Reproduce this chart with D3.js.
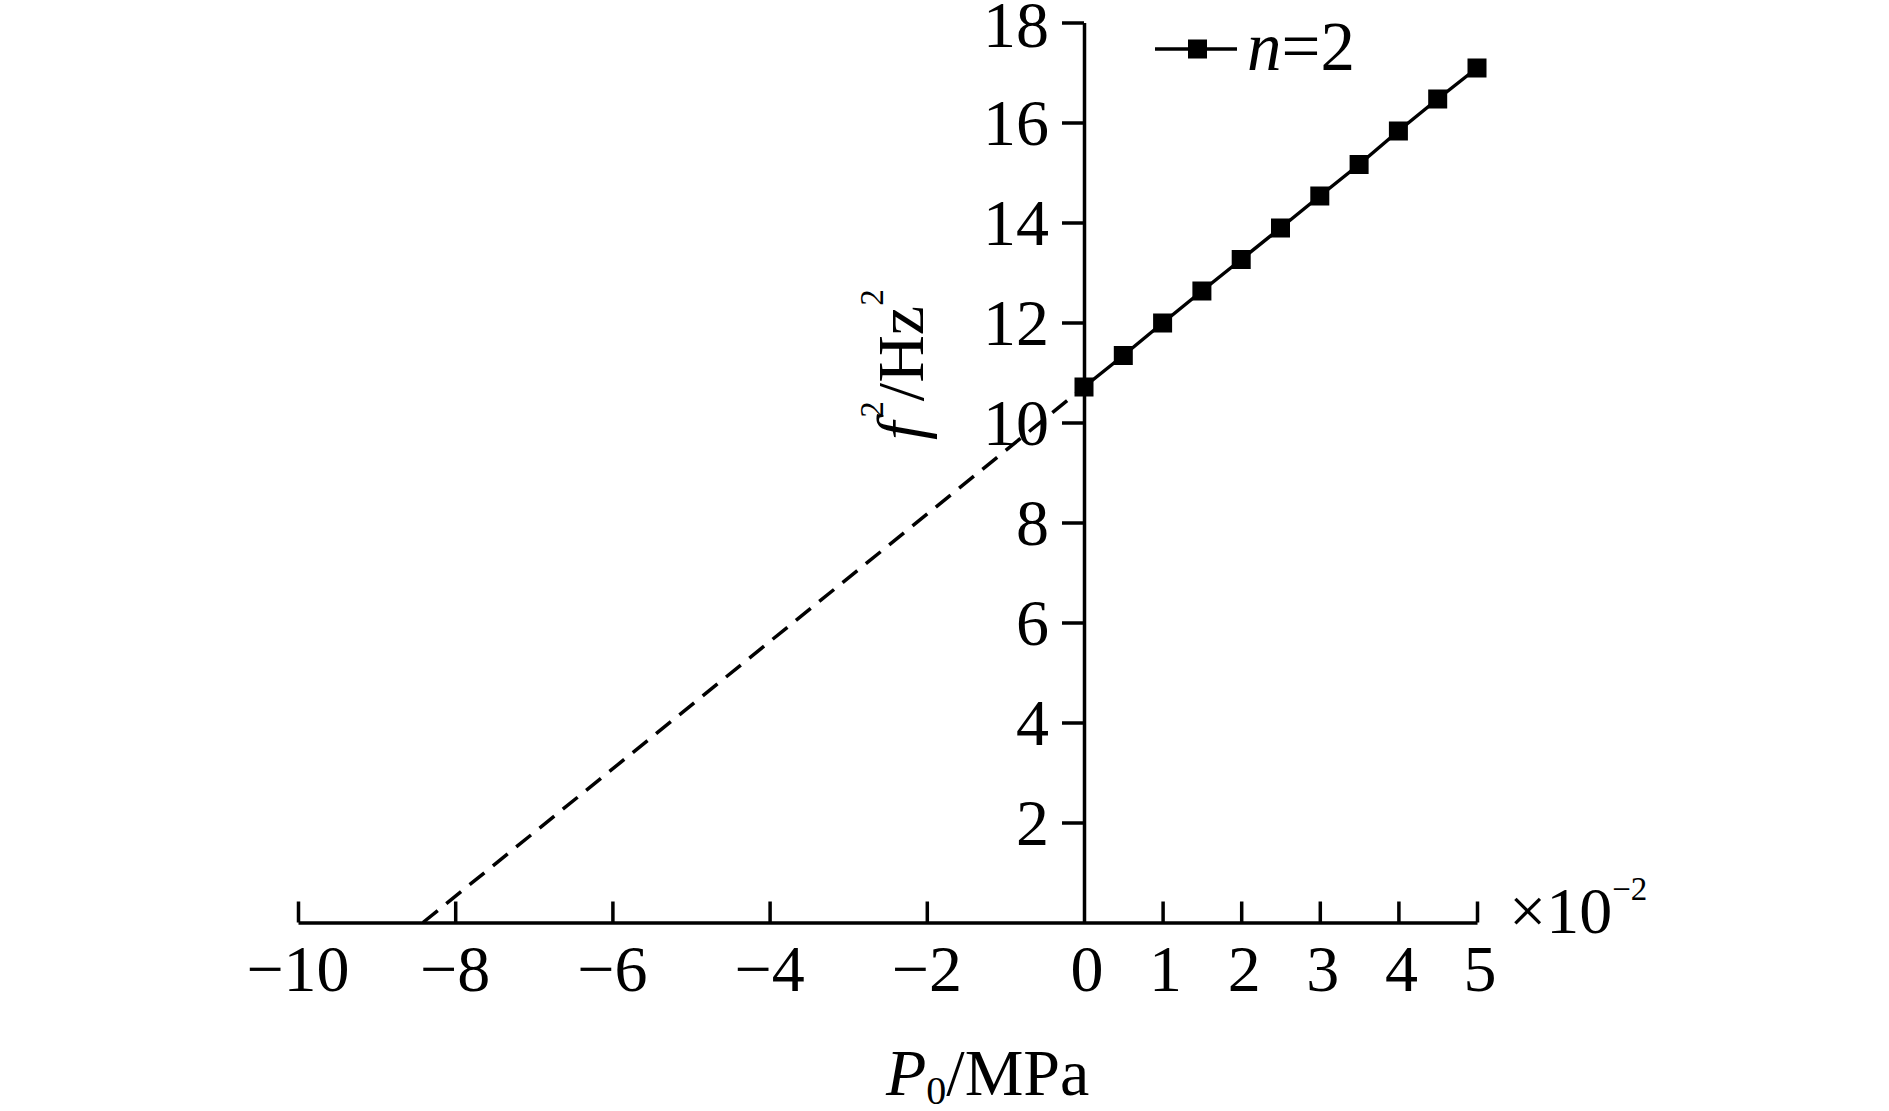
<!DOCTYPE html>
<html>
<head>
<meta charset="utf-8">
<script src="https://cdn.jsdelivr.net/npm/d3@7"></script>
<style>
  html, body { margin: 0; padding: 0; background: #fff; }
  svg { display: block; }
  text { font-family: "Liberation Serif", "Times New Roman", serif; fill: #000; }
</style>
</head>
<body>
<svg id="chart" width="1889" height="1111"></svg>
<script>
// ---- data ----
const pressure = [0, 0.5, 1, 1.5, 2, 2.5, 3, 3.5, 4, 4.5, 5];           // P0 (x10^-2 MPa)
const freqSq   = [10.71, 11.34, 11.99, 12.63, 13.26, 13.89, 14.53, 15.16, 15.83, 16.47, 17.09]; // f^2 (Hz^2)
const extrapX  = [-8.41, 0];      // dashed extrapolation line
const extrapY  = [0, 10.71];
const xTickMarks  = [-10, -8, -6, -4, -2, 1, 2, 3, 4, 5];
const xTickLabels = [-10, -8, -6, -4, -2, 0, 1, 2, 3, 4, 5];
const yTicks      = [2, 4, 6, 8, 10, 12, 14, 16, 18];
const seriesName  = "n=2";

// ---- layout ----
const svg = d3.select("#chart");
const x = d3.scaleLinear().domain([-10, 5]).range([298, 1477]);
const y = d3.scaleLinear().domain([0, 18]).range([922.5, 22.5]);
const FS = 66;
const SW = 3.5;

// X axis
const xAxis = d3.axisBottom(x)
  .tickValues(xTickMarks)
  .tickSizeInner(-21)
  .tickSizeOuter(0)
  .tickFormat("");
const gx = svg.append("g").attr("transform", `translate(0,${y(0)})`).call(xAxis);
gx.select(".domain").attr("stroke", "#000").attr("stroke-width", SW);
gx.selectAll(".tick line").attr("stroke", "#000").attr("stroke-width", SW);

const fmt = d3.format("d");
svg.append("g").selectAll("text").data(xTickLabels).join("text")
  .attr("x", d => x(d) + (d >= 0 ? 3 : 0))
  .attr("y", y(0) + 68.5)
  .attr("text-anchor", "middle")
  .attr("font-size", FS)
  .text(d => fmt(d));

// Y axis
const yAxis = d3.axisLeft(y)
  .tickValues(yTicks)
  .tickSizeInner(22)
  .tickSizeOuter(0)
  .tickPadding(13);
const gy = svg.append("g").attr("transform", `translate(${x(0)},0)`).call(yAxis);
gy.select(".domain").attr("stroke", "#000").attr("stroke-width", SW);
gy.selectAll(".tick line").attr("stroke", "#000").attr("stroke-width", SW);
gy.selectAll(".tick text")
  .attr("font-size", FS)
  .attr("font-family", "Liberation Serif, Times New Roman, serif")
  .attr("fill", "#000")
  .attr("dy", d => d === 18 ? "0.37em" : "0.34em");

// dashed extrapolation line
const extrap = extrapX.map((v, i) => [v, extrapY[i]]);
svg.append("path")
  .datum(extrap)
  .attr("fill", "none")
  .attr("stroke", "#000")
  .attr("stroke-width", SW)
  .attr("stroke-dasharray", "19,11")
  .attr("d", d3.line().x(d => x(d[0])).y(d => y(d[1])));

// data line + markers
const pts = pressure.map((v, i) => [v, freqSq[i]]);
svg.append("path")
  .datum(pts)
  .attr("fill", "none")
  .attr("stroke", "#000")
  .attr("stroke-width", SW)
  .attr("d", d3.line().x(d => x(d[0])).y(d => y(d[1])));
const MS = 19;
svg.append("g").selectAll("rect").data(pts).join("rect")
  .attr("x", d => x(d[0]) - MS / 2)
  .attr("y", d => y(d[1]) - MS / 2)
  .attr("width", MS).attr("height", MS)
  .attr("fill", "#000");

// legend
const lg = svg.append("g");
lg.append("line").attr("x1", 1155).attr("x2", 1237).attr("y1", 49).attr("y2", 49)
  .attr("stroke", "#000").attr("stroke-width", SW);
lg.append("rect").attr("x", 1197.5 - MS / 2).attr("y", 49 - MS / 2)
  .attr("width", MS).attr("height", MS).attr("fill", "#000");
const lt = lg.append("text").attr("x", 1247).attr("y", 70).attr("font-size", 69);
lt.append("tspan").attr("font-style", "italic").text(seriesName.slice(0, 1));
lt.append("tspan").text(seriesName.slice(1));

// x multiplier
const mt = svg.append("text").attr("x", 1509).attr("y", 933).attr("font-size", FS);
mt.append("tspan").text("×10");
mt.append("tspan").attr("font-size", 33).attr("dy", -33).text("−2");

// x title
const xt = svg.append("text").attr("x", 886).attr("y", 1095).attr("font-size", FS);
xt.append("tspan").attr("font-style", "italic").text("P");
xt.append("tspan").attr("font-size", 40).attr("dy", 9).text("0");
xt.append("tspan").attr("dy", -9).text("/MPa");

// y title
const yt = svg.append("text")
  .attr("transform", "translate(923,440) rotate(-90)")
  .attr("font-size", FS);
yt.append("tspan").attr("font-style", "italic").text("f");
yt.append("tspan").attr("font-size", 33).attr("dy", -40).attr("dx", 4).text("2");
yt.append("tspan").attr("dy", 40).text("/Hz");
yt.append("tspan").attr("font-size", 33).attr("dy", -40).text("2");
</script>
</body>
</html>
